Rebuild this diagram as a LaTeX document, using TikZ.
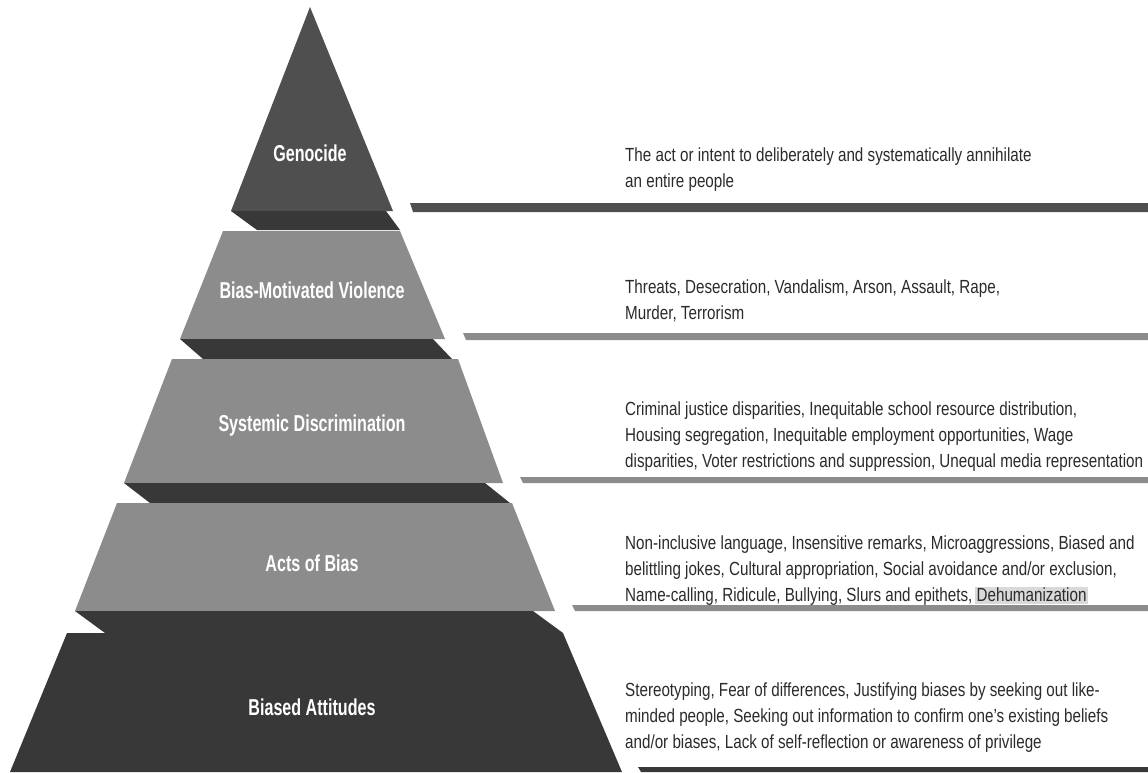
\documentclass[tikz,border=0pt]{standalone}
\usepackage{fontspec}
\setmainfont[FakeStretch=0.8]{Liberation Sans}
\newfontfamily\tierfont[FakeStretch=0.7]{Liberation Sans}
\usetikzlibrary{positioning}

\definecolor{pyrtop}{gray}{0.31}
\definecolor{pyrband}{gray}{0.22}
\definecolor{pyrmid}{gray}{0.55}
\definecolor{pyrbase}{gray}{0.22}
\definecolor{pyrtext}{gray}{0.17}
\definecolor{pyrmark}{gray}{0.85}

\begin{document}
\begin{tikzpicture}
    [
        x=1pt, y=-1pt,
        tier/.style={text=white, inner sep=0pt, font=\tierfont\bfseries\fontsize{23}{26}\selectfont},
        desc/.style={anchor=north west, inner sep=0pt, align=left, text=pyrtext, font=\fontsize{19}{26}\selectfont},
    ]
    \useasboundingbox[fill=white] (0,0) rectangle (1148,772);

    % pyramid
    \fill[pyrtop]  (310,7) -- (393,211) -- (231,211) -- cycle;
    \fill[pyrband] (231,211) -- (386,211) -- (400,230) -- (257,230) -- cycle;
    \fill[pyrmid]  (223,231) -- (400,231) -- (445,339) -- (180,339) -- cycle;
    \fill[pyrband] (180,339) -- (433,339) -- (452,359) -- (203,359) -- cycle;
    \fill[pyrmid]  (172,359) -- (458,359) -- (503,483) -- (124,483) -- cycle;
    \fill[pyrband] (124,483) -- (485,483) -- (510,503) -- (150,503) -- cycle;
    \fill[pyrmid]  (117,503) -- (512,503) -- (555,611) -- (75,611) -- cycle;
    \fill[pyrband] (75,611) -- (533,611) -- (563,633) -- (105,633) -- cycle;
    \fill[pyrbase] (67,633) -- (563,633) -- (622,772) -- (10,772) -- cycle;

    % bars
    \fill[pyrtop]  (410,203) -- (1148,203) -- (1148,212) -- (413,212) -- cycle;
    \fill[pyrmid]  (463,333) -- (1148,333) -- (1148,340) -- (466,340) -- cycle;
    \fill[pyrmid]  (520,477) -- (1148,477) -- (1148,483) -- (523,483) -- cycle;
    \fill[pyrmid]  (572,605) -- (1148,605) -- (1148,611) -- (575,611) -- cycle;
    \fill[pyrbase] (638,767) -- (1148,767) -- (1148,772) -- (641,772) -- cycle;

    % tiers
    \node[tier] (genocide) at (310,153) {Genocide};
    \node[tier] (violence) at (312,290) {Bias-Motivated Violence};
    \node[tier] (systemic) at (312,426) {Systemic Discrimination};
    \node[tier] (acts)     at (312,563) {Acts of Bias};
    \node[tier] (attitudes) at (312,707) {Biased Attitudes};

    % descriptions
    \node[desc] (genocide-d) at (625,148) {The act or intent to deliberately and systematically annihilate\\an entire people};
    \node[desc] (violence-d) at (625,280) {Threats, Desecration, Vandalism, Arson, Assault, Rape,\\Murder, Terrorism};
    \node[desc] (systemic-d) at (625,402) {Criminal justice disparities, Inequitable school resource distribution,\\Housing segregation, Inequitable employment opportunities, Wage\\disparities, Voter restrictions and suppression, Unequal media representation};
    \node[desc] (acts-d) at (625,536) {Non-inclusive language, Insensitive remarks, Microaggressions, Biased and\\belittling jokes, Cultural appropriation, Social avoidance and/or exclusion,\\Name-calling, Ridicule, Bullying, Slurs and epithets, {\setlength{\fboxsep}{1.5pt}\kern-1.5pt\colorbox{pyrmark}{Dehumanization}}};
    \node[desc] (attitudes-d) at (625,683) {Stereotyping, Fear of differences, Justifying biases by seeking out like-\\minded people, Seeking out information to confirm one’s existing beliefs\\and/or biases, Lack of self-reflection or awareness of privilege};
\end{tikzpicture}
\end{document}
